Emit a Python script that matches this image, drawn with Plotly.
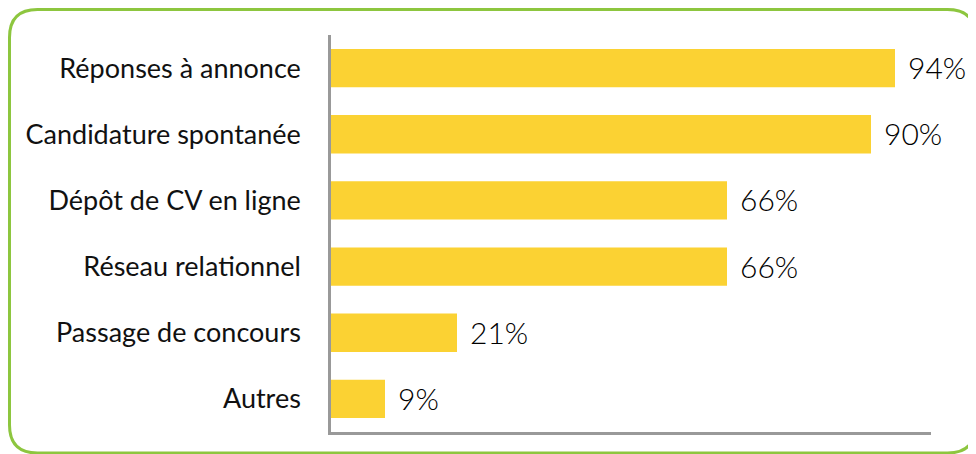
import plotly.graph_objects as go

categories = ["Réponses à annonce", "Candidature spontanée", "Dépôt de CV en ligne",
              "Réseau relationnel", "Passage de concours", "Autres"]
values = [94, 90, 66, 66, 21, 9]
value_labels = ["94%", "90%", "66%", "66%", "21%", "9%"]

# page has an 8px body margin, so the figure is drawn 8px smaller/shifted
OFF = 8
W, H = 976 - OFF, 454 - OFF
L, R, T, B = 331 - OFF, 45, 35 - OFF, 22
PW, PH = W - L - R, H - T - B

def px(x):
    return (x - L) / PW

def py(y):
    return 1 - (y - T) / PH

fig = go.Figure(go.Bar(
    y=categories, x=values, orientation="h",
    marker=dict(color="#FBD233", line=dict(width=0)),
    width=0.58,
    hoverinfo="skip",
))

for cat, v, lab in zip(categories, values, value_labels):
    fig.add_annotation(x=v, y=cat, text=lab, showarrow=False, xanchor="left", yanchor="middle",
                       xshift=11, yshift=1,
                       font=dict(family="Lato, Noto Sans, sans-serif", size=30, color="#000000",
                                 weight=300))

# rounded green frame (figure coords)
x0, y0, x1, y1, r = 1.5, 1.5, 967.5, 445, 28
path = (f"M {px(x0+r)},{py(y0)} L {px(x1-r)},{py(y0)} Q {px(x1)},{py(y0)} {px(x1)},{py(y0+r)} "
        f"L {px(x1)},{py(y1-r)} Q {px(x1)},{py(y1)} {px(x1-r)},{py(y1)} "
        f"L {px(x0+r)},{py(y1)} Q {px(x0)},{py(y1)} {px(x0)},{py(y1-r)} "
        f"L {px(x0)},{py(y0+r)} Q {px(x0)},{py(y0)} {px(x0+r)},{py(y0)} Z")

fig.update_layout(
    width=W, height=H,
    margin=dict(l=L, r=R, t=T, b=B, pad=0, autoexpand=False),
    plot_bgcolor="white", paper_bgcolor="white",
    showlegend=False,
    xaxis=dict(range=[0, 100], showgrid=False, zeroline=False, showticklabels=False,
               showline=True, linecolor="#999999", linewidth=2.5, ticks="", fixedrange=True),
    yaxis=dict(categoryorder="array", categoryarray=categories[::-1], autorange=False,
               range=[-0.5, 5.5], showgrid=False, zeroline=False,
               showline=True, linecolor="#999999", linewidth=2.5, ticks="",
               ticklabelstandoff=22, automargin=False,
               tickfont=dict(family="Lato, Open Sans, sans-serif", size=27, color="#111111")),
    shapes=[dict(type="path", xref="paper", yref="paper", path=path,
                 line=dict(color="#8DC63F", width=3), fillcolor="rgba(0,0,0,0)", layer="below")],
)

fig.write_html("out.html")
